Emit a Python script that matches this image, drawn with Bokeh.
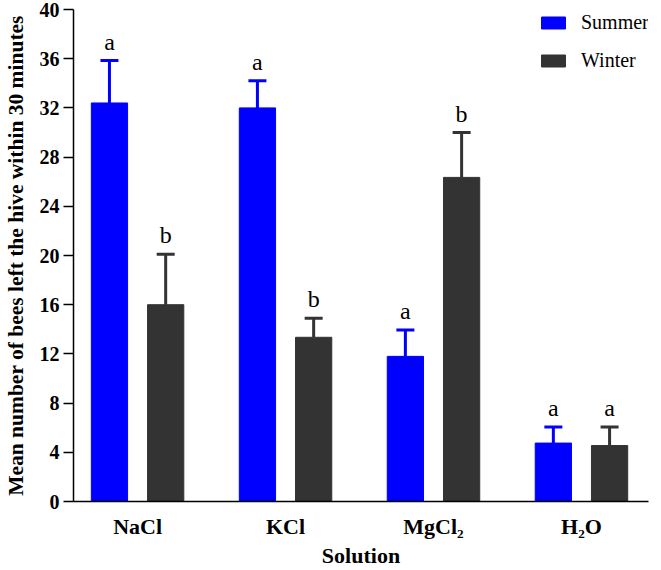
from bokeh.plotting import figure
from bokeh.models import (Range1d, FixedTicker, Whisker, TeeHead, ColumnDataSource,
                          Legend, LegendItem)
from bokeh.core.properties import value
from bokeh.embed import file_html
from bokeh.resources import INLINE

# ---- data ----
solutions = ["NaCl", "KCl", "MgCl\u2082", "H\u2082O"]
summer_mean = [32.4, 32.0, 11.8, 4.75]
summer_upper = [35.85, 34.2, 13.95, 6.05]
winter_mean = [16.0, 13.35, 26.35, 4.55]
winter_upper = [20.1, 14.9, 30.0, 6.05]
summer_letters = ["a", "a", "a", "a"]
winter_letters = ["b", "b", "b", "a"]
y_ticks = [0, 4, 8, 12, 16, 20, 24, 28, 32, 36, 40]
x_title = "Solution"
y_title = "Mean number of bees left the hive within 30 minutes"

# ---- layout / style ----
positions = [1, 2, 3, 4]
offset = 0.19
bar_w = 0.245
SUMMER = "#0000FF"
WINTER = "#333333"
FONT = "Liberation Serif"
W, H = 661, 570
BL, BR, BT, BB = 67, 13, 9, 68

src_s = ColumnDataSource(dict(x=[p - offset for p in positions], top=summer_mean,
                              upper=summer_upper, lab=summer_letters))
src_w = ColumnDataSource(dict(x=[p + offset for p in positions], top=winter_mean,
                              upper=winter_upper, lab=winter_letters))

p = figure(width=W, height=H, x_range=Range1d(0.567, 4.453), y_range=Range1d(0, 40),
           output_backend="svg", toolbar_location=None,
           min_border_left=BL, min_border_right=BR, min_border_top=BT, min_border_bottom=BB)
p.outline_line_color = None
p.xgrid.grid_line_color = None
p.ygrid.grid_line_color = None

rs = p.vbar(x="x", top="top", bottom=0, width=bar_w, source=src_s,
            fill_color=SUMMER, line_color=SUMMER)
rw = p.vbar(x="x", top="top", bottom=0, width=bar_w, source=src_w,
            fill_color=WINTER, line_color=WINTER)

for src, col in ((src_s, SUMMER), (src_w, WINTER)):
    w = Whisker(source=src, base="x", lower="top", upper="upper", dimension="height",
                line_color=col, line_width=3, lower_head=None,
                upper_head=TeeHead(size=18, line_color=col, line_width=3))
    p.add_layout(w)
    p.text(x="x", y="upper", text="lab", source=src, text_font=value(FONT),
           text_font_size="24px", text_align="center", text_baseline="bottom",
           y_offset=-6, text_color="black")

# axes
ya = p.yaxis[0]
ya.ticker = FixedTicker(ticks=y_ticks)
ya.major_label_text_font = FONT
ya.major_label_text_font_style = "bold"
ya.major_label_text_font_size = "20px"
ya.major_label_text_color = "black"
ya.major_label_standoff = 4
ya.major_tick_out = 10
ya.major_tick_in = 0
ya.minor_tick_out = 0
ya.minor_tick_in = 0
ya.axis_line_width = 1.5
ya.major_tick_line_width = 1.5
ya.axis_line_color = "black"
ya.major_tick_line_color = "black"
ya.axis_label = y_title
ya.axis_label_text_font = FONT
ya.axis_label_text_font_style = "bold"
ya.axis_label_text_font_size = "21.5px"
ya.axis_label_text_color = "black"
ya.axis_label_standoff = 9

xa = p.xaxis[0]
xa.ticker = FixedTicker(ticks=positions)
xa.major_label_overrides = {pos: s for pos, s in zip(positions, solutions)}
xa.major_label_text_font = FONT
xa.major_label_text_font_style = "bold"
xa.major_label_text_font_size = "22px"
xa.major_label_text_color = "black"
xa.major_label_standoff = 12
xa.major_tick_out = 0
xa.major_tick_in = 0
xa.minor_tick_out = 0
xa.minor_tick_in = 0
xa.axis_line_width = 1.5
xa.axis_line_color = "black"
xa.axis_label = x_title
xa.axis_label_text_font = FONT
xa.axis_label_text_font_style = "bold"
xa.axis_label_text_font_size = "22px"
xa.axis_label_text_color = "black"
xa.axis_label_standoff = 1

legend = Legend(items=[LegendItem(label="Summer", renderers=[rs]),
                       LegendItem(label="Winter", renderers=[rw])],
                location=(465, 429), glyph_width=30, glyph_height=15,
                label_text_font=FONT, label_text_font_size="20px",
                label_text_color="black", label_standoff=13, spacing=15,
                padding=0, margin=0, border_line_alpha=0, background_fill_alpha=0)
p.add_layout(legend)

open("out.html", "w").write(file_html(p, INLINE))
